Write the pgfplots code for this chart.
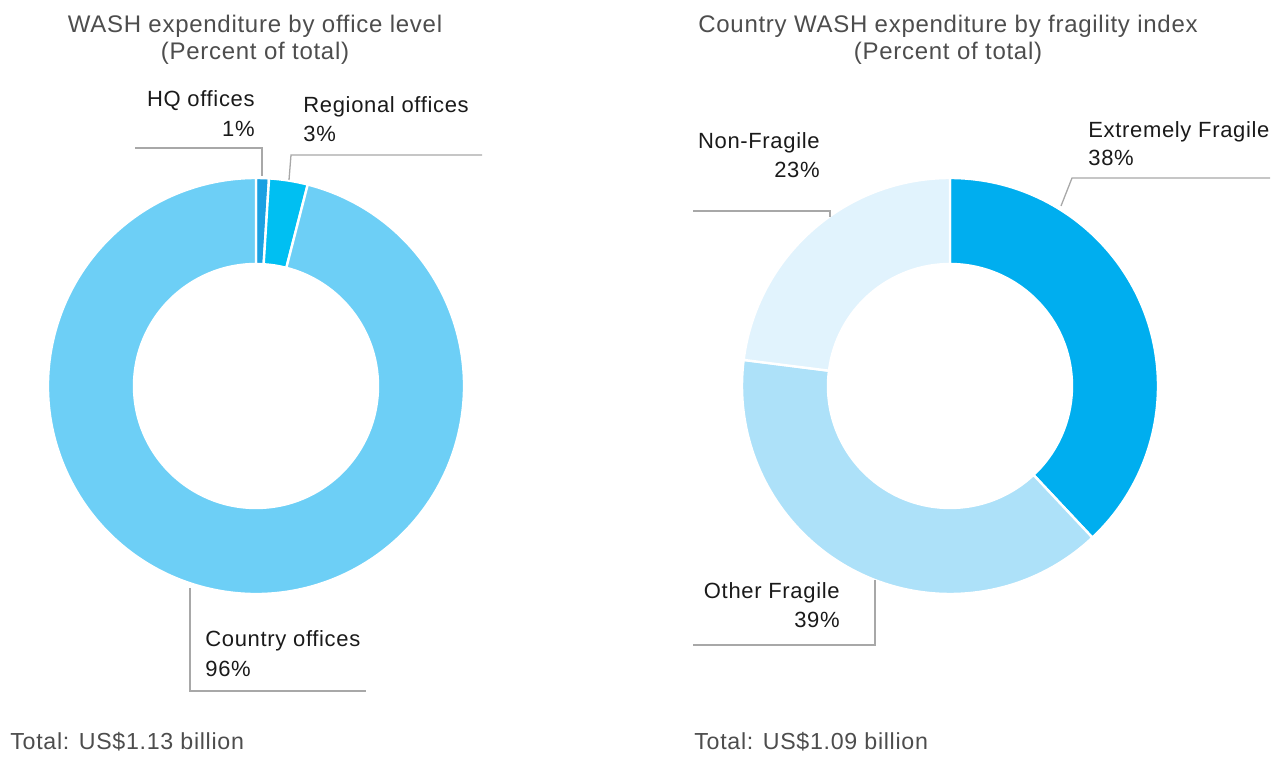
\documentclass[border=0pt]{standalone}
\usepackage{pgfplots}
\pgfplotsset{compat=1.18}
\usepackage{pgfplotstable}
\usepackage{fontspec}
\setmainfont{Liberation Sans}[LetterSpace=3]

\definecolor{hq}{HTML}{1BA1E2}
\definecolor{reg}{HTML}{00BFF2}
\definecolor{ctry}{HTML}{6DCFF6}
\definecolor{xfrag}{HTML}{00AEEF}
\definecolor{ofrag}{HTML}{ADE1F9}
\definecolor{nfrag}{HTML}{E1F3FD}
\definecolor{titlegray}{HTML}{4D4D4D}
\definecolor{labblack}{HTML}{1A1A1A}
\definecolor{leader}{HTML}{A8A8A8}

% Office level (percent of total)
\pgfplotstableread{
label pct
HQ 1
Regional 3
Country 96
}\officedata
% Fragility index (percent of total)
\pgfplotstableread{
label pct
Extremely 38
Other 39
Non 23
}\fragdata

\pgfplotstablegetelem{0}{pct}\of\officedata \let\oA\pgfplotsretval
\pgfplotstablegetelem{1}{pct}\of\officedata \let\oB\pgfplotsretval
\pgfplotstablegetelem{2}{pct}\of\officedata \let\oC\pgfplotsretval
\pgfplotstablegetelem{0}{pct}\of\fragdata \let\fA\pgfplotsretval
\pgfplotstablegetelem{1}{pct}\of\fragdata \let\fB\pgfplotsretval
\pgfplotstablegetelem{2}{pct}\of\fragdata \let\fC\pgfplotsretval

% cx, cy, cumulative start pct, pct, colour
\newcommand\donutwedge[5]{%
  \fill[#5, draw=white, line width=1.2pt]
    ([shift={({90-3.6*(#3)}:104pt)}]axis cs:#1,#2)
    arc[start angle={90-3.6*(#3)}, end angle={90-3.6*(#3+#4)}, radius=104pt]
    -- ([shift={({90-3.6*(#3+#4)}:61pt)}]axis cs:#1,#2)
    arc[start angle={90-3.6*(#3+#4)}, end angle={90-3.6*(#3)}, radius=61pt]
    -- cycle;
}

\tikzset{
  ttl/.style={font=\fontsize{12}{14}\selectfont, text=titlegray},
  lab/.style={font=\fontsize{11}{13}\selectfont, text=labblack, inner sep=0pt},
  tot/.style={font=\fontsize{11.6}{13}\selectfont, text=titlegray, inner sep=0pt},
  ld/.style={draw=leader, line width=0.65pt},
}

\begin{document}
\begin{tikzpicture}
\begin{axis}[
  width=637.5pt, height=378pt, scale only axis,
  xmin=0, xmax=1275, ymin=0, ymax=756,
  hide axis, clip=false,
]
% ---- left donut ----
\donutwedge{256}{370}{0}{\oA}{hq}
\donutwedge{256}{370}{\oA}{\oB}{reg}
\donutwedge{256}{370}{\oA+\oB}{\oC}{ctry}
% ---- right donut ----
\donutwedge{950}{370}{0}{\fA}{xfrag}
\donutwedge{950}{370}{\fA}{\fB}{ofrag}
\donutwedge{950}{370}{\fA+\fB}{\fC}{nfrag}

% titles
\node[ttl, anchor=base, inner sep=0pt] at (axis cs:255,{756-33}) {WASH expenditure by office level};
\node[ttl, anchor=base, inner sep=0pt] at (axis cs:255,{756-60}) {(Percent of total)};
\node[ttl, anchor=base, inner sep=0pt] at (axis cs:948,{756-33}) {Country WASH expenditure by fragility index};
\node[ttl, anchor=base, inner sep=0pt] at (axis cs:948,{756-60}) {(Percent of total)};

% left labels
\node[lab, anchor=base east] at (axis cs:255,{756-107}) {HQ offices};
\node[lab, anchor=base east] at (axis cs:255,{756-137}) {1\%};
\draw[ld] (axis cs:135,{756-148}) -- (axis cs:262,{756-148}) -- (axis cs:262,{756-176});
\node[lab, anchor=base west] at (axis cs:303,{756-113}) {Regional offices};
\node[lab, anchor=base west] at (axis cs:303,{756-142}) {3\%};
\draw[ld] (axis cs:482,{756-155}) -- (axis cs:291,{756-155}) -- (axis cs:289,{756-180});
\node[lab, anchor=base west] at (axis cs:205,{756-647}) {Country offices};
\node[lab, anchor=base west] at (axis cs:205,{756-677}) {96\%};
\draw[ld] (axis cs:190,{756-588}) -- (axis cs:190,{756-691}) -- (axis cs:366,{756-691});

% right labels
\node[lab, anchor=base west] at (axis cs:1088,{756-138}) {Extremely Fragile};
\node[lab, anchor=base west] at (axis cs:1088,{756-166}) {38\%};
\draw[ld] (axis cs:1270,{756-178}) -- (axis cs:1072,{756-178}) -- (axis cs:1061,{756-206});
\node[lab, anchor=base east] at (axis cs:820,{756-149}) {Non-Fragile};
\node[lab, anchor=base east] at (axis cs:820,{756-178}) {23\%};
\draw[ld] (axis cs:693,{756-211}) -- (axis cs:830,{756-211}) -- (axis cs:830,{756-217});
\node[lab, anchor=base east] at (axis cs:840,{756-599}) {Other Fragile};
\node[lab, anchor=base east] at (axis cs:840,{756-628}) {39\%};
\draw[ld] (axis cs:875,{756-580}) -- (axis cs:875,{756-645}) -- (axis cs:693,{756-645});

% totals
\node[tot, anchor=base west] at (axis cs:10,{756-749}) {Total: US\$1.13 billion};
\node[tot, anchor=base west] at (axis cs:694,{756-749}) {Total: US\$1.09 billion};
\end{axis}
\pgfresetboundingbox
\path (current axis.south west) rectangle (current axis.north east);
\end{tikzpicture}
\end{document}
